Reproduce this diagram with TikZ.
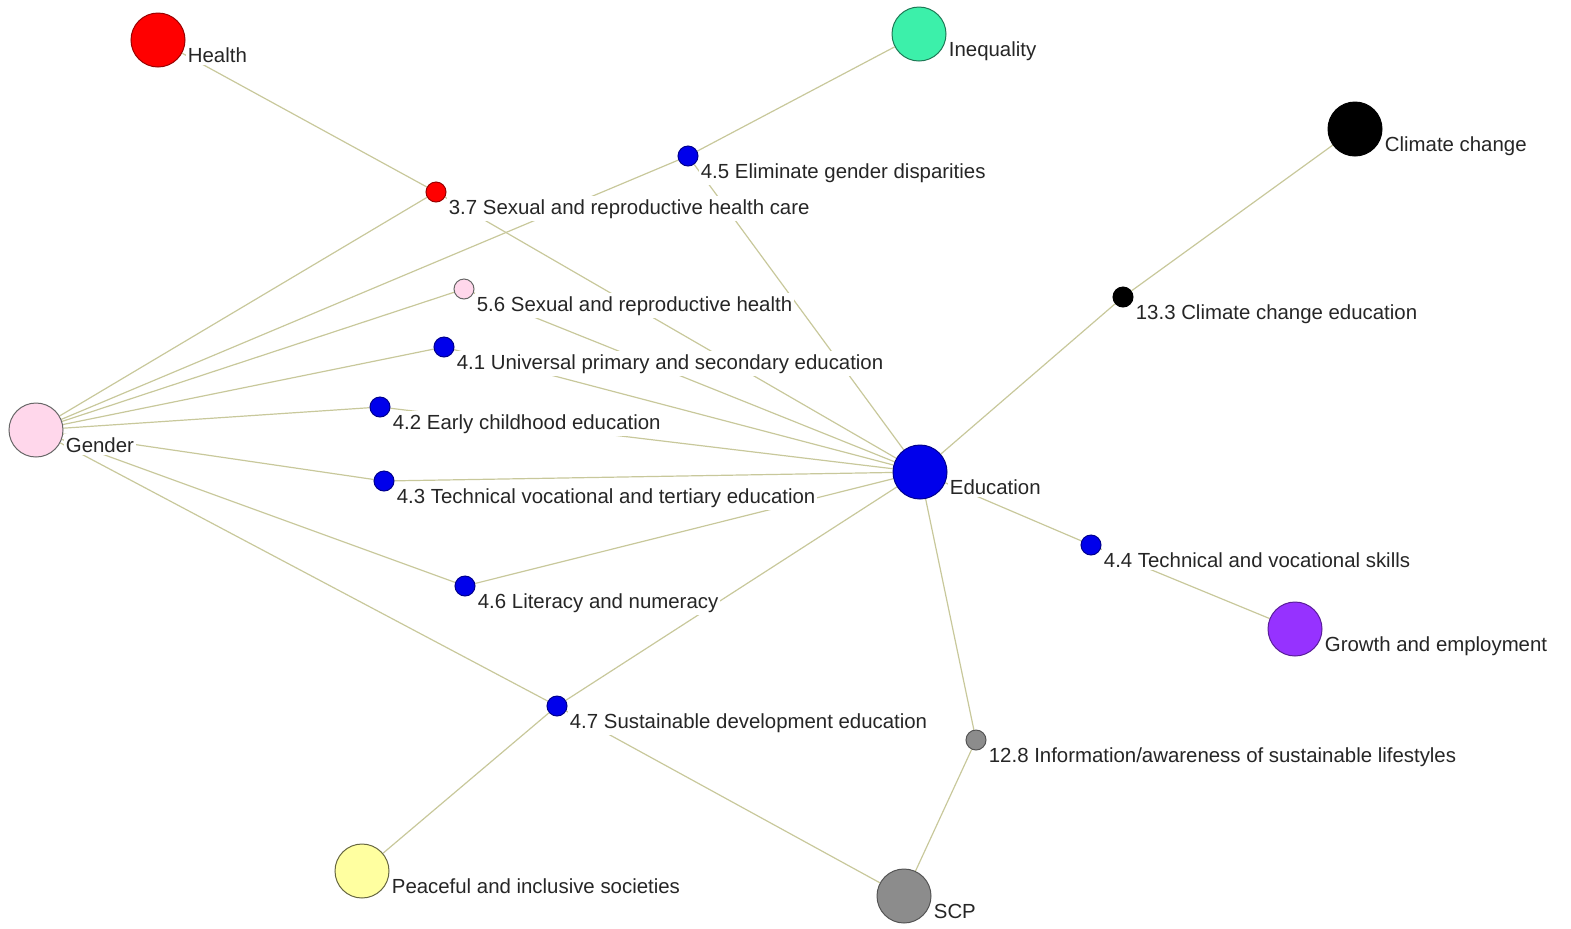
\documentclass[tikz,border=0pt]{standalone}
\usepackage{fontspec}
\setmainfont{Liberation Sans}
\usetikzlibrary{backgrounds}

\definecolor{linkcol}{RGB}{200,200,155}
\definecolor{healthred}{RGB}{255,0,0}
\definecolor{ineqgreen}{RGB}{60,240,170}
\definecolor{genderpink}{RGB}{255,215,235}
\definecolor{edublue}{RGB}{0,0,235}
\definecolor{growthpurple}{RGB}{150,50,255}
\definecolor{peaceyellow}{RGB}{255,255,160}
\definecolor{scpgray}{RGB}{140,140,140}

\begin{document}
\begin{tikzpicture}[x=0.5pt,y=-0.5pt,
    bigdot/.style={circle,draw,line width=0.5pt,minimum size=27pt,inner sep=0pt},
    smalldot/.style={circle,draw,line width=0.5pt,minimum size=10pt,inner sep=0pt},
    lbl/.style={anchor=base west,fill=white,inner xsep=1pt,inner ysep=1.5pt,
      font=\fontsize{10.2pt}{12pt}\selectfont,text=black!85,yshift=-11pt},
    link/.style={color=linkcol,line width=0.6pt}]

    \useasboundingbox (0,0) rectangle (1571,928);

    % goals
    \node[bigdot,fill=healthred,draw=healthred!60!black,label={[lbl]east:Health}] (health) at (158,40) {};
    \node[bigdot,fill=ineqgreen,draw=ineqgreen!50!black,label={[lbl]east:Inequality}] (inequality) at (919,34) {};
    \node[bigdot,fill=black,draw=black,label={[lbl]east:Climate change}] (climate) at (1355,129) {};
    \node[bigdot,fill=genderpink,draw=black!60,label={[lbl]east:Gender}] (gender) at (36,430) {};
    \node[bigdot,fill=edublue,draw=edublue!60!black,label={[lbl]east:Education}] (education) at (920,472) {};
    \node[bigdot,fill=growthpurple,draw=growthpurple!60!black,label={[lbl]east:Growth and employment}] (growth) at (1295,629) {};
    \node[bigdot,fill=peaceyellow,draw=peaceyellow!40!black,label={[lbl]east:Peaceful and inclusive societies}] (peace) at (362,871) {};
    \node[bigdot,fill=scpgray,draw=scpgray!60!black,label={[lbl]east:SCP}] (scp) at (904,896) {};

    % targets
    \node[smalldot,fill=healthred,draw=healthred!60!black,label={[lbl]east:3.7 Sexual and reproductive health care}] (t37) at (436,192) {};
    \node[smalldot,fill=edublue,draw=edublue!60!black,label={[lbl]east:4.5 Eliminate gender disparities}] (t45) at (688,156) {};
    \node[smalldot,fill=genderpink,draw=black!60,label={[lbl]east:5.6 Sexual and reproductive health}] (t56) at (464,289) {};
    \node[smalldot,fill=edublue,draw=edublue!60!black,label={[lbl]east:4.1 Universal primary and secondary education}] (t41) at (444,347) {};
    \node[smalldot,fill=edublue,draw=edublue!60!black,label={[lbl]east:4.2 Early childhood education}] (t42) at (380,407) {};
    \node[smalldot,fill=edublue,draw=edublue!60!black,label={[lbl]east:4.3 Technical vocational and tertiary education}] (t43) at (384,481) {};
    \node[smalldot,fill=edublue,draw=edublue!60!black,label={[lbl]east:4.6 Literacy and numeracy}] (t46) at (465,586) {};
    \node[smalldot,fill=edublue,draw=edublue!60!black,label={[lbl]east:4.7 Sustainable development education}] (t47) at (557,706) {};
    \node[smalldot,fill=black,draw=black,label={[lbl]east:13.3 Climate change education}] (t133) at (1123,297) {};
    \node[smalldot,fill=edublue,draw=edublue!60!black,label={[lbl]east:4.4 Technical and vocational skills}] (t44) at (1091,545) {};
    \node[smalldot,fill=scpgray,draw=scpgray!60!black,label={[lbl]east:12.8 Information/awareness of sustainable lifestyles}] (t128) at (976,740) {};

    \begin{pgfonlayer}{background}
    \path[link]
    (health) edge (t37)
    (t37) edge (gender)
    (t37) edge (education)
    (inequality) edge (t45)
    (t45) edge (gender)
    (t45) edge (education)
    (t56) edge (gender)
    (t56) edge (education)
    (t41) edge (gender)
    (t41) edge (education)
    (t42) edge (gender)
    (t42) edge (education)
    (t43) edge (gender)
    (t43) edge (education)
    (t46) edge (gender)
    (t46) edge (education)
    (t47) edge (gender)
    (t47) edge (education)
    (t47) edge (peace)
    (t47) edge (scp)
    (climate) edge (t133)
    (t133) edge (education)
    (education) edge (t44)
    (t44) edge (growth)
    (education) edge (t128)
    (t128) edge (scp)
    ;
    \end{pgfonlayer}
\end{tikzpicture}
\end{document}
